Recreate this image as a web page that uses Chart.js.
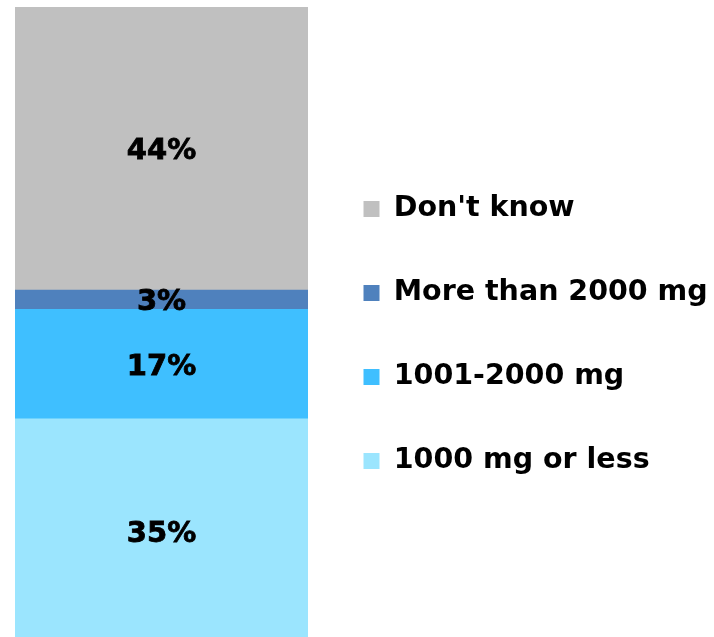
<!DOCTYPE html>
<html>
<head>
<meta charset="utf-8">
<script src="https://cdn.jsdelivr.net/npm/chart.js@4/dist/chart.umd.min.js"></script>
<style>
  html, body { margin: 0; padding: 0; overflow: hidden; background: #ffffff; }
  canvas { display: block; }
</style>
</head>
<body>
<canvas id="chart" width="714" height="644"></canvas>
<script>
// Single stacked column: share of answers per amount band (percent)
const categories = ['Total'];
const seriesLabels = ['1000 mg or less', '1001-2000 mg', 'More than 2000 mg', "Don't know"];
const lessThan1000 = [35];
const from1001to2000 = [17];
const moreThan2000 = [3];
const dontKnow = [44];
const seriesColors = ['#9be5fe', '#3fbfff', '#4f81bd', '#c0c0c0'];

const FONT = "'DejaVu Sans', Verdana, sans-serif";
const values = [lessThan1000, from1001to2000, moreThan2000, dontKnow];

// Writes each segment's percentage in the middle of its block
const segmentLabels = {
  id: 'segmentLabels',
  afterDatasetsDraw(chart) {
    const ctx = chart.ctx;
    ctx.save();
    ctx.font = 'bold 29px ' + FONT;
    ctx.fillStyle = '#000000';
    ctx.strokeStyle = '#000000';
    ctx.lineWidth = 0.8;
    ctx.textAlign = 'center';
    ctx.textBaseline = 'alphabetic';
    chart.data.datasets.forEach((ds, di) => {
      const meta = chart.getDatasetMeta(di);
      meta.data.forEach((bar, i) => {
        const mid = (bar.y + bar.base) / 2;
        const txt = ds.data[i] + '%';
        const y = mid + 0.729 * 29 / 2;
        ctx.fillText(txt, bar.x, y);
        ctx.strokeText(txt, bar.x, y);
      });
    });
    ctx.restore();
  }
};

new Chart(document.getElementById('chart'), {
  type: 'bar',
  data: {
    labels: categories,
    datasets: seriesLabels.map((label, k) => ({
      label,
      data: values[k],
      backgroundColor: seriesColors[k],
      borderWidth: 0,
      barPercentage: 1,
      categoryPercentage: 1
    }))
  },
  options: {
    responsive: false,
    animation: false,
    layout: { padding: { left: 15, right: 1, top: 7, bottom: 0 } },
    scales: {
      x: { stacked: true, display: false },
      y: { stacked: true, display: false, min: 0, max: 99 }
    },
    plugins: {
      tooltip: { enabled: false },
      legend: {
        position: 'right',
        align: 'center',
        reverse: true,
        maxWidth: 405,
        title: { display: true, text: ' ', padding: 0, font: { size: 19, lineHeight: 1 } },
        labels: {
          boxWidth: 16,
          boxHeight: 16,
          padding: 55.5,
          color: '#000000',
          font: { family: FONT, weight: 'bold', size: 28.5 }
        }
      }
    }
  },
  plugins: [segmentLabels]
});
</script>
</body>
</html>
